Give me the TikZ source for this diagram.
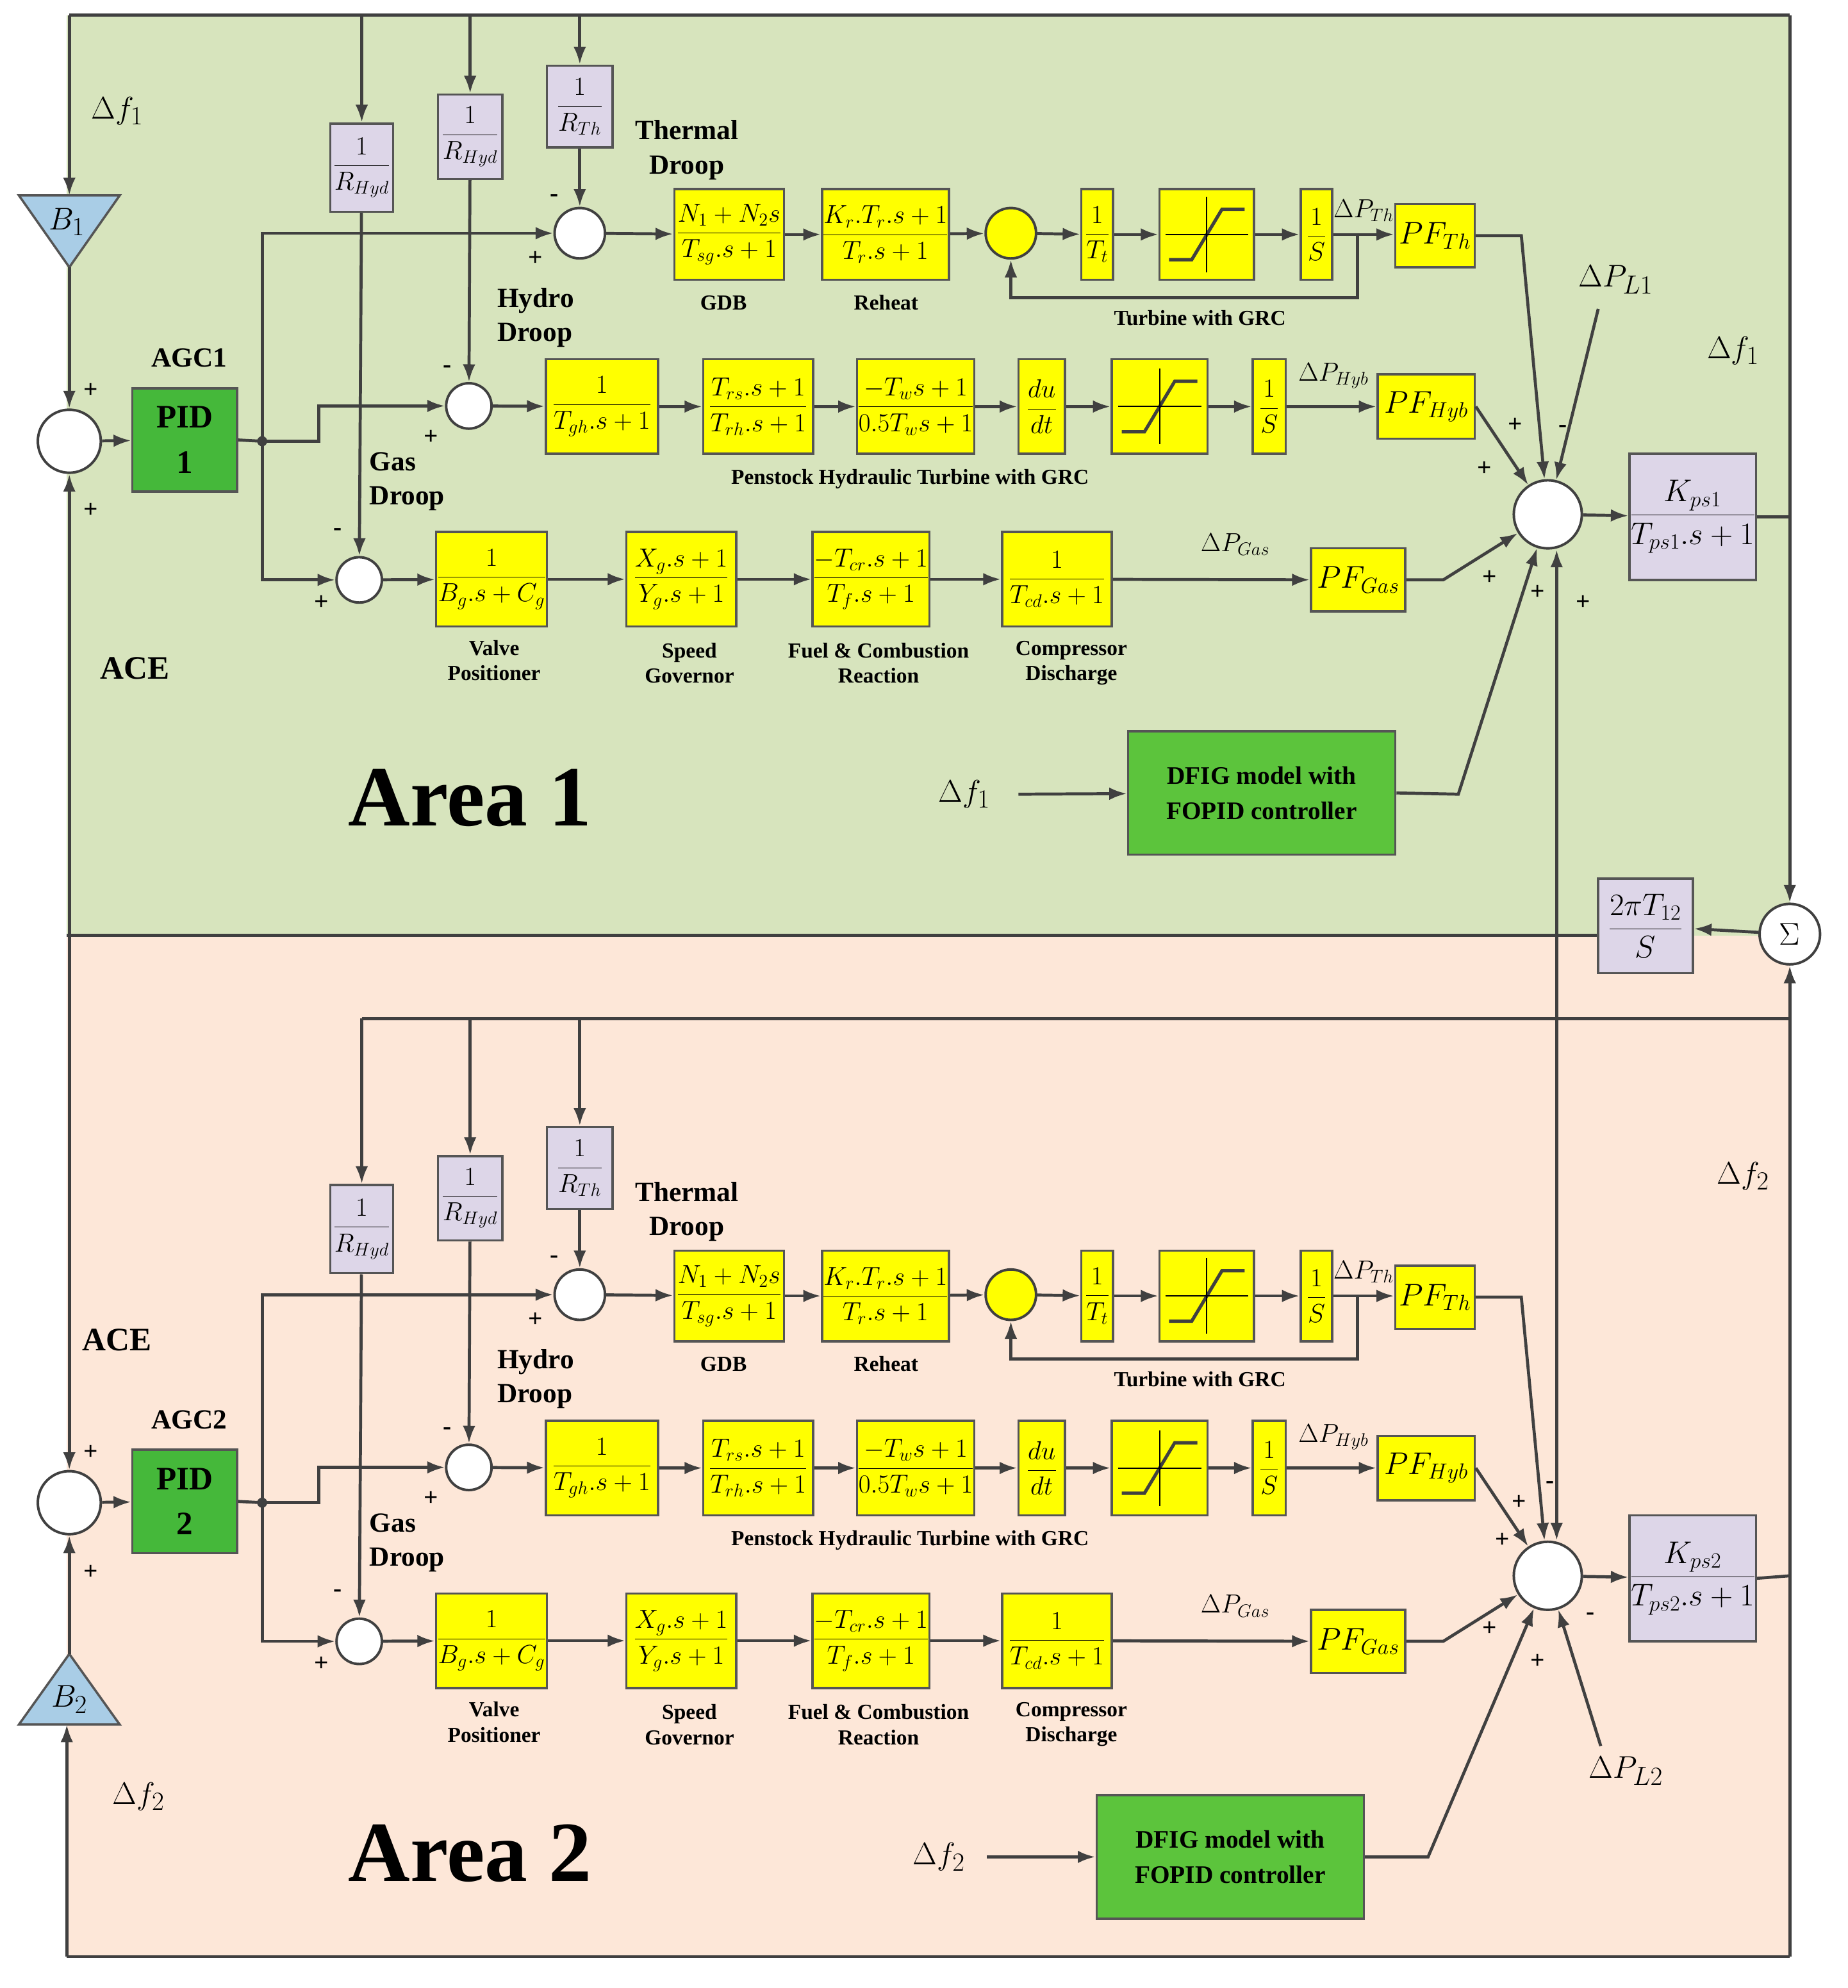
\documentclass[tikz,border=0pt]{standalone}
\usepackage{fontspec}
\setmainfont{Liberation Serif}
\usetikzlibrary{arrows.meta,calc,shapes.geometric}
\definecolor{lc}{HTML}{404040}
\definecolor{bc}{HTML}{555555}
\definecolor{yel}{HTML}{FFFF00}
\definecolor{lav}{HTML}{DDD6E8}
\definecolor{gpid}{HTML}{45B83A}
\definecolor{gdf}{HTML}{5CC43C}
\definecolor{bgA}{HTML}{D7E4BD}
\definecolor{bgB}{HTML}{FDE7D8}
\definecolor{tri}{HTML}{A9CDE6}
\tikzset{
 ln/.style={line width=2.4pt, draw=lc},
 ar/.style={ln, -{Latex[length=14pt,width=10pt]}},
 blk/.style={draw=bc, line width=1.8pt, inner sep=0pt, align=center},
 yb/.style={blk, fill=yel},
 lb/.style={blk, fill=lav},
 sm/.style={circle, draw=lc, line width=2pt, fill=white, inner sep=0pt},
 lab/.style={font=\fontsize{17}{20}\selectfont\bfseries, align=center},
 big/.style={font=\fontsize{22}{27}\selectfont\bfseries, align=left},
 sg/.style={font=\fontsize{20}{20}\selectfont\bfseries},
 df/.style={font=\fontsize{32}{32}\selectfont},
 pidf/.style={font=\fontsize{26}{36}\selectfont\bfseries},
 dff/.style={font=\fontsize{20}{28}\selectfont\bfseries},
}
\newcommand\B[6]{\node[#1,minimum width=#4pt,minimum height=#5pt] (#2) at (#3) {#6};}
\newcommand\F[2]{\fontsize{20}{22}\selectfont$\displaystyle\frac{#1}{#2}$}
\newcommand\Sat[1]{\draw[line width=2.6pt,lc] ([shift={(-30,20)}]#1.center) -- ([shift={(-12,20)}]#1.center) -- ([shift={(12,-20)}]#1.center) -- ([shift={(30,-20)}]#1.center);
 \draw[line width=1pt] ([shift={(0,-30)}]#1.center) -- ([shift={(0,30)}]#1.center);
 \draw[line width=1pt] ([shift={(-33,0)}]#1.center) -- ([shift={(33,0)}]#1.center);}
\newcommand\arearows[3]{%
 \B{lb}{rth}{460,84.5}{52}{65}{\F{1}{R_{Th}}}
 \B{lb}{rhy}{373,108.5}{51}{67}{\F{1}{R_{Hyd}}}
 \B{lb}{rhg}{287,133}{50}{70}{\F{1}{R_{Hyd}}}
 \node[sm,minimum size=50pt] (sum) at (55,350) {};
 \B{blk,fill=gpid,pidf}{pid}{146.5,349}{83}{82}{PID\\ #3}
 \node[big] at (150,284) {AGC#3};
 \node[sg] at (72,310) {+}; \node[sg] at (72,405) {+};
 \draw[ar] (sum) -- (pid);
 \coordinate (jn) at (208,350);
 \draw[ln] (pid.east) -- (jn); \fill[lc] (jn) circle (4pt);
 \node[sm,minimum size=40pt] (th) at (460,185) {};
 \B{yb}{gdb}{578.5,186}{87}{72}{\F{N_1+N_2 s}{T_{sg}.s+1}}
 \B{yb}{reh}{702.5,186}{89}{72}{\F{K_r.T_r.s+1}{T_r.s+1}}
 \node[sm,fill=yel,minimum size=40pt] (yc) at (802,185) {};
 \B{yb}{tt}{870.5,186}{25}{72}{\F{1}{T_t}}
 \B{yb}{sat}{957.5,186}{75}{72}{} \Sat{sat}
 \B{yb}{st}{1044.5,186}{25}{72}{\F{1}{S}}
 \B{yb}{pft}{1138.5,187}{63}{50}{\fontsize{26}{26}\selectfont$PF_{Th}$}
 \draw[ar] (jn) |- (th);
 \draw[ar] (th) -- (gdb); \draw[ar] (gdb) -- (reh); \draw[ar] (reh) -- (yc);
 \draw[ar] (yc) -- (tt); \draw[ar] (tt) -- (sat); \draw[ar] (sat) -- (st);
 \draw[ar] (st) -- (st.east -| pft.west);
 \draw[ar] (1077,186) -- (1077,236) -| (yc.south);
 \node[font=\fontsize{20}{20}\selectfont] at (1082,167) {$\Delta P_{Th}$};
 \node[lab] at (574,240) {GDB}; \node[lab] at (703,240) {Reheat};
 \node[lab] at (952,252) {Turbine with GRC};
 \node[sm,minimum size=36pt] (hy) at (372,322) {};
 \B{yb}{h1}{477.5,322.5}{89}{75}{\F{1}{T_{gh}.s+1}}
 \B{yb}{h2}{601.5,322.5}{87}{75}{\F{T_{rs}.s+1}{T_{rh}.s+1}}
 \B{yb}{h3}{726.5,322.5}{87}{75}{\F{-T_w s+1}{0.5T_w s+1}}
 \B{yb}{du}{826.5,322.5}{37}{75}{\F{du}{dt}}
 \B{yb}{sah}{920,322.5}{76}{75}{} \Sat{sah}
 \B{yb}{sh}{1007,322.5}{26}{75}{\F{1}{S}}
 \B{yb}{pfh}{1131.5,322.5}{77}{51}{\fontsize{26}{26}\selectfont$PF_{Hyb}$}
 \draw[ar] (jn) -- (253,350) |- (hy);
 \draw[ar] (hy) -- (h1); \draw[ar] (h1) -- (h2); \draw[ar] (h2) -- (h3);
 \draw[ar] (h3) -- (du); \draw[ar] (du) -- (sah); \draw[ar] (sah) -- (sh); \draw[ar] (sh) -- (pfh);
 \node[font=\fontsize{20}{20}\selectfont] at (1058,298) {$\Delta P_{Hyb}$};
 \node[lab] at (722,380) {Penstock Hydraulic Turbine with GRC};
 \node[sm,minimum size=36pt] (gs) at (285,460) {};
 \B{yb}{g1}{390,459.5}{88}{75}{\F{1}{B_g.s+C_g}}
 \B{yb}{g2}{540.5,459.5}{87}{75}{\F{X_g.s+1}{Y_g.s+1}}
 \B{yb}{g3}{691,459.5}{88}{75}{\F{-T_{cr}.s+1}{T_f.s+1}}
 \B{yb}{g4}{838.5,459.5}{87}{75}{\F{1}{T_{cd}.s+1}}
 \B{yb}{pfg}{1077.5,460}{75}{50}{\fontsize{26}{26}\selectfont$PF_{Gas}$}
 \draw[ar] (jn) |- (gs);
 \draw[ar] (gs) -- (g1); \draw[ar] (g1) -- (g2); \draw[ar] (g2) -- (g3); \draw[ar] (g3) -- (g4); \draw[ar] (g4) -- (pfg);
 \node[font=\fontsize{22}{22}\selectfont] at (980,432) {$\Delta P_{Gas}$};
 \node[lab] at (392,524) {Valve\\Positioner};
 \node[lab] at (547,526) {Speed\\Governor};
 \node[lab] at (697,526) {Fuel \& Combustion\\Reaction};
 \node[lab] at (850,526) {Compressor\\Discharge};
 \draw[ar] (460,#1) -- (rth); \draw[ar] (rth) -- (th);
 \draw[ar] (373,#1) -- (rhy); \draw[ar] (rhy) -- (hy);
 \draw[ar] (287,#1) -- (rhg); \draw[ar] (rhg) -- (gs);
 \node[big] at (545,119) {Thermal\\\ \ Droop};
 \node[big] at (425,252) {Hydro\\Droop};
 \node[big] at (323,382) {Gas\\Droop};
 \node[sg] at (440,157) {-}; \node[sg] at (425,205) {+};
 \node[sg] at (355,293) {-}; \node[sg] at (342,347) {+};
 \node[sg] at (268,422) {-}; \node[sg] at (255,478) {+};
 \node[sm,minimum size=54pt] (bs) at (1228,408) {};
 \B{lb}{K}{1343,410}{100}{100}{\fontsize{26}{28}\selectfont$\displaystyle\frac{K_{ps#3}}{T_{ps#3}.s+1}$}
 \draw[ar] (pft.east) -- (1207,187) -- (bs);
 \draw[ar] (pfh.east) -- (bs);
 \draw[ar] (pfg.east) -- (1145,460) -- (bs);
 \draw[ar] (bs) -- (K);
}
\begin{document}
\begin{tikzpicture}[x=1pt,y=-1pt]
\useasboundingbox (0,0) rectangle (1466,1577);
\fill[bgA] (53,12) rectangle (1420,742);
\fill[bgB] (53,742) rectangle (1420,1552);
\begin{scope}[name prefix=a1-]
\arearows{12}{}{1}
\end{scope}
\begin{scope}[yshift=-842pt,name prefix=a2-]
\arearows{-34}{}{2}
\end{scope}
\draw[ln] (55,12) -- (1420,12);
\coordinate (b1t) at (55,155); \coordinate (b1b) at (55,212);
\draw[blk,fill=tri] (15,155) -- (95,155) -- (55,212) -- cycle;
\node[font=\fontsize{28}{28}\selectfont] at (53,176) {$B_1$};
\draw[ar] (55,12) -- (b1t);
\draw[ar] (b1b) -- (a1-sum);
\node[df] at (93,88) {$\Delta f_1$};
\node[font=\fontsize{26}{26}\selectfont\bfseries] at (107,530) {ACE};
\node[font=\fontsize{68}{68}\selectfont\bfseries] at (373,633) {Area 1};
\node[df] at (1375,278) {$\Delta f_1$};
\node[sm,minimum size=48pt] (sig) at (1420,741) {\fontsize{26}{26}\selectfont$\Sigma$};
\B{lb}{tie}{1305.5,734.5}{75}{75}{\fontsize{26}{28}\selectfont$\displaystyle\frac{2\pi T_{12}}{S}$}
\draw[ln] (a1-K.east) -- (1420,410);
\draw[ar] (1420,12) -- (sig);
\draw[ar] (sig) -- (tie);
\draw[ln] (tie.west |- 0,742) -- (53,742);
\draw[ar] (55,742) -- (a1-sum);
\draw[ar] (55,742) -- (a2-sum);
\draw[ar,{Latex[length=14pt,width=10pt]}-{Latex[length=14pt,width=10pt]}] ([xshift=7pt]a1-bs.south) -- ([xshift=7pt]a2-bs.north);
\B{blk,fill=gdf,dff}{dfa}{1001,629}{212}{98}{DFIG model with\\FOPID controller}
\node[df] at (765,630) {$\Delta f_1$};
\coordinate (dfi1) at (808,630);
\draw[ar] (dfi1) -- (dfa);
\draw[ar] (dfa.east) -- (1157,630) -- (a1-bs);
\node[font=\fontsize{32}{32}\selectfont] at (1282,222) {$\Delta P_{L1}$};
\coordinate (pl1) at (1268,245);
\draw[ar] (pl1) -- (a1-bs);
\node[sg] at (1202,337) {+}; \node[sg] at (1240,340) {-}; \node[sg] at (1178,372) {+};
\node[sg] at (1182,458) {+}; \node[sg] at (1220,470) {+}; \node[sg] at (1256,478) {+};
\draw[ln] (287,808) -- (1420,808);
\draw[ln] (a2-K.east) -- (1420,1250);
\draw[ar] (1420,1552) -- (sig);
\draw[ln] (1420,1552) -- (53,1552);
\draw[blk,fill=tri] (15,1368) -- (95,1368) -- (55,1312) -- cycle;
\node[font=\fontsize{28}{28}\selectfont] at (55,1348) {$B_2$};
\coordinate (b2t) at (55,1312); \coordinate (b2b) at (55,1368);
\draw[ar] (53,1552) -- (53,1368);
\draw[ar] (b2t) -- (a2-sum);
\node[df] at (110,1425) {$\Delta f_2$};
\node[font=\fontsize{26}{26}\selectfont\bfseries] at (93,1063) {ACE};
\node[font=\fontsize{68}{68}\selectfont\bfseries] at (373,1470) {Area 2};
\node[df] at (1383,933) {$\Delta f_2$};
\B{blk,fill=gdf,dff}{dfb}{976,1473}{212}{98}{DFIG model with\\FOPID controller}
\node[df] at (745,1473) {$\Delta f_2$};
\coordinate (dfi2) at (783,1473);
\draw[ar] (dfi2) -- (dfb);
\draw[ar] (dfb.east) -- (1133,1473) -- (a2-bs);
\node[font=\fontsize{32}{32}\selectfont] at (1290,1405) {$\Delta P_{L2}$};
\coordinate (pl2) at (1270,1385);
\draw[ar] (pl2) -- (a2-bs);
\node[sg] at (1205,1192) {+}; \node[sg] at (1230,1178) {-}; \node[sg] at (1192,1222) {+};
\node[sg] at (1182,1292) {+}; \node[sg] at (1262,1282) {-}; \node[sg] at (1220,1318) {+};
\end{tikzpicture}
\end{document}
